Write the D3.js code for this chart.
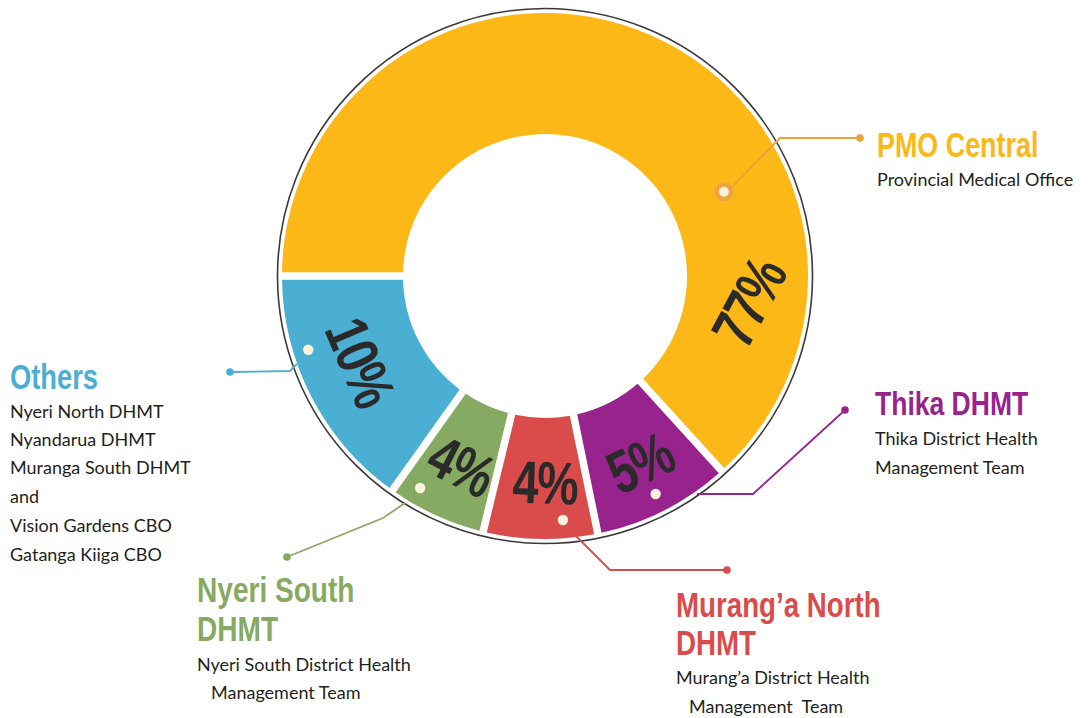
<!DOCTYPE html>
<html><head><meta charset="utf-8">
<script src="https://cdn.jsdelivr.net/npm/d3@7"></script>
<style>body{margin:0;background:#fff}svg{display:block}</style>
</head><body><svg id="c" width="1092" height="718"></svg>
<script>
// ---- data ----
const categories = ["PMO Central", "Thika DHMT", "Murang’a North DHMT", "Nyeri South DHMT", "Others"];
const percentLabels = [77, 5, 4, 4, 10];
// share of the ring each slice occupies in the artwork (the original is not drawn to scale)
const arcShares = [63.28, 8.5, 7.0, 6.06, 15.16];
const titleLines = [["PMO Central"], ["Thika DHMT"], ["Murang’a North", "DHMT"], ["Nyeri South", "DHMT"], ["Others"]];
const subtitleLines = [
  ["Provincial Medical Office"],
  ["Thika District Health", "Management Team"],
  ["Murang’a District Health", "Management  Team"],
  ["Nyeri South District Health", "Management Team"],
  ["Nyeri North DHMT", "Nyandarua DHMT", "Muranga South DHMT", "and", "Vision Gardens CBO", "Gatanga Kiiga CBO"]
];
const colors = ["#FBB817", "#98238C", "#DA4C4B", "#86AA62", "#4AAFD3"];

// ---- layout ----
const svg = d3.select("#c");
const cx = 545, cy = 276;
const deg = Math.PI / 180;
const polar = (r, a) => [cx + r * Math.sin(a * deg), cy - r * Math.cos(a * deg)];

const heavy = "'Liberation Sans', Arial, sans-serif";
const squeeze = 0.78;
const bodyFont = "Lato, 'Open Sans', sans-serif";

const pie = d3.pie().sort(null).value(d => d).startAngle(-Math.PI / 2).endAngle(3 * Math.PI / 2);
const arc = d3.arc().innerRadius(142).outerRadius(263).padAngle(0.075).padRadius(100);
const arcs = pie(arcShares);

const g = svg.append("g");
g.append("circle").attr("cx", cx).attr("cy", cy).attr("r", 267.5)
  .attr("fill", "none").attr("stroke", "#3a3a3a").attr("stroke-width", 1.6);

g.append("g").attr("transform", `translate(${cx},${cy})`)
  .selectAll("path").data(arcs).join("path")
  .attr("d", arc).attr("fill", (d, i) => colors[i]);

// percentage labels (polar radius, angle in degrees, rotation)
const pctPlace = [
  {r: 205, a: 97.3, rot: -62},
  {r: 209, a: 153.1, rot: -25},
  {r: 206, a: 180, rot: 2},
  {r: 207, a: 203.8, rot: 27},
  {r: 203, a: 245, rot: 67}
];
g.selectAll("text.pct").data(percentLabels).join("text").attr("class", "pct")
  .attr("transform", (d, i) => {
    const [x, y] = polar(pctPlace[i].r, pctPlace[i].a);
    return `translate(${x},${y}) rotate(${pctPlace[i].rot}) scale(${squeeze},1)`;
  })
  .attr("text-anchor", "middle").attr("dy", "0.36em")
  .attr("font-family", heavy).attr("font-weight", "bold")
  .attr("font-size", 60).attr("letter-spacing", -2)
  .attr("fill", "#2a2a2a")
  .text(d => d + "%");

// leader lines
const leaders = [
  {pts: [[731, 188], [780, 138], [860, 138]], col: "#EAA33C"},
  {pts: [[697, 494], [753, 494], [845, 410]], col: "#98238C"},
  {pts: [[568, 528], [610, 570], [727, 570]], col: "#DA4C4B"},
  {pts: [[405, 503], [383, 518], [287, 557]], col: "#86AA62"},
  {pts: [[297, 364], [290, 371], [230, 372]], col: "#4AAFD3"}
];
leaders.forEach(l => {
  g.append("path").attr("d", d3.line()(l.pts)).attr("fill", "none")
    .attr("stroke", l.col).attr("stroke-width", 1.8);
  const e = l.pts[l.pts.length - 1];
  g.append("circle").attr("cx", e[0]).attr("cy", e[1]).attr("r", 3.8).attr("fill", l.col);
});

// inner dots
const dotPlace = [{r: 197.7, a: 64.8}, {r: 244.5, a: 153.1}, {r: 244.7, a: 175.8}, {r: 246, a: 210.5}, {r: 248, a: 252.7}];
dotPlace.forEach((p, i) => {
  const [x, y] = polar(p.r, p.a);
  if (i === 0) g.append("circle").attr("cx", x).attr("cy", y).attr("r", 9.5).attr("fill", "#EDA43E");
  g.append("circle").attr("cx", x).attr("cy", y).attr("r", i === 0 ? 5 : 5.2).attr("fill", "#FBF1DE");
});

// text blocks
const blocks = [
  {x: 877, ty: [157], ts: 34.5, sx: [877], sy: [186]},
  {x: 875, ty: [415], ts: 34, sx: [875, 875], sy: [445, 474]},
  {x: 676, ty: [617, 655], ts: 35.5, sx: [676, 689], sy: [684, 713]},
  {x: 197, ty: [602, 641], ts: 36, sx: [197, 211], sy: [671, 699]},
  {x: 10, ty: [389], ts: 35, sx: [10, 10, 10, 10, 10, 10], sy: [418, 446, 474, 503, 532, 561]}
];
blocks.forEach((b, i) => {
  titleLines[i].forEach((t, j) => {
    g.append("text").attr("transform", `translate(${b.x},${b.ty[j]}) scale(${squeeze},1)`)
      .attr("font-family", heavy).attr("font-weight", "bold")
      .attr("font-size", b.ts).attr("fill", colors[i]).text(t);
  });
  subtitleLines[i].forEach((t, j) => {
    g.append("text").attr("x", b.sx[j]).attr("y", b.sy[j])
      .attr("font-family", bodyFont).attr("font-size", 18)
      .attr("fill", "#231f20").style("white-space", "pre").text(t);
  });
});
</script></body></html>
